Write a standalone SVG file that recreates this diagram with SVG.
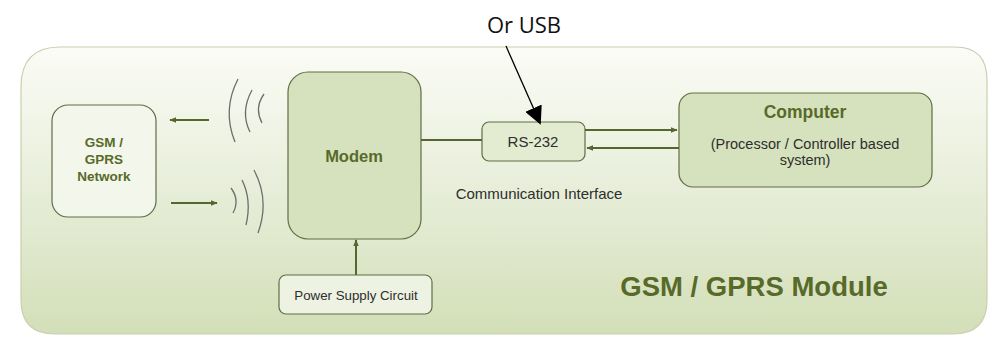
<svg xmlns="http://www.w3.org/2000/svg" width="989" height="337" viewBox="0 0 989 337">
  <defs>
    <linearGradient id="panelFill" x1="0" y1="0" x2="0" y2="1">
      <stop offset="0" stop-color="#fbfcf6"/>
      <stop offset="0.45" stop-color="#e9efdc"/>
      <stop offset="1" stop-color="#d3dfb8"/>
    </linearGradient>
    <marker id="oliveHead" viewBox="0 0 10 10" refX="9" refY="5" markerWidth="7" markerHeight="7" markerUnits="userSpaceOnUse" orient="auto">
      <path d="M0,1 L10,5 L0,9 Z" fill="#55672f"/>
    </marker>
    <marker id="blackHead" viewBox="0 0 10 10" refX="9" refY="5" markerWidth="18" markerHeight="18" markerUnits="userSpaceOnUse" orient="auto">
      <path d="M0,0 L10,5 L0,10 Z" fill="#000"/>
    </marker>
  </defs>
  <style>
    .box { stroke: #5f6e43; stroke-width: 1.2; }
    .link { stroke: #55672f; stroke-width: 2; fill: none; }
    .wave { stroke: #6d6d6d; stroke-width: 1.3; fill: none; }
    .boldlbl { font-family: "Liberation Sans", Arial, sans-serif; font-weight: bold; fill: #586a2a; text-anchor: middle; }
    .lbl { font-family: "Liberation Sans", Arial, sans-serif; fill: #2e2e2e; text-anchor: middle; }
  </style>

  <rect width="989" height="337" fill="#ffffff"/>

  <!-- module panel -->
  <path d="M60,47 L955,47 Q987,47 987,80 L987,300 Q987,334 953,334 L55,334 Q21,334 21,300 L21,87 Q21,47 60,47 Z" fill="url(#panelFill)" stroke="#c9cfae" stroke-width="1.2"/>
  <text x="754" y="296" class="boldlbl" font-size="27.5">GSM / GPRS Module</text>

  <g id="network">
    <rect class="box" x="52" y="105" width="104" height="112" rx="16" fill="#f3f6ea"/>
    <text class="boldlbl" font-size="13.5" x="104" y="147">GSM /</text>
    <text class="boldlbl" font-size="13.5" x="104" y="164">GPRS</text>
    <text class="boldlbl" font-size="13.5" x="104" y="181">Network</text>
  </g>

  <g id="modem">
    <rect class="box" x="288" y="72" width="133" height="167" rx="20" fill="#d6e1bd"/>
    <text class="boldlbl" font-size="16.5" x="354" y="162">Modem</text>
  </g>

  <g id="rs232">
    <rect class="box" x="482" y="122" width="103" height="39" rx="7" fill="#e3ebd1"/>
    <text class="lbl" font-size="15" x="533" y="147">RS-232</text>
  </g>

  <g id="computer">
    <rect class="box" x="679" y="93" width="253" height="94" rx="14" fill="#d6e1bd"/>
    <text class="boldlbl" font-size="17.5" x="805" y="118">Computer</text>
    <text class="lbl" font-size="14.5" x="805" y="149">(Processor / Controller based</text>
    <text class="lbl" font-size="14.5" x="805" y="165">system)</text>
  </g>

  <g id="power">
    <rect class="box" x="279" y="275" width="153" height="39" rx="7" fill="#edf2e2"/>
    <text class="lbl" font-size="13.3" x="356" y="300">Power Supply Circuit</text>
  </g>

  <g id="labels">
    <text class="lbl" font-size="15" x="539" y="199">Communication  Interface</text>
    <text x="524" y="33" font-family="Open Sans, 'Liberation Sans', sans-serif" font-size="22" fill="#111" text-anchor="middle">Or USB</text>
  </g>

  <g id="connectors">
    <!-- radio links -->
    <line class="link" x1="209" y1="120" x2="170" y2="120" marker-end="url(#oliveHead)"/>
    <line class="link" x1="171" y1="203" x2="217" y2="203" marker-end="url(#oliveHead)"/>
    <!-- outgoing waves -->
    <path class="wave" d="M238,79 Q222,110 235,142"/>
    <path class="wave" d="M252,90 Q240,112 250,132"/>
    <path class="wave" d="M264,94 Q254,108 262,123"/>
    <!-- incoming waves -->
    <path class="wave" d="M231,188 Q240,200 233,213"/>
    <path class="wave" d="M242,180 Q252,200 246,225"/>
    <path class="wave" d="M254,170 Q270,200 258,233"/>
    <!-- modem to interface -->
    <line class="link" x1="421" y1="140" x2="482" y2="140"/>
    <!-- interface to computer and back -->
    <line class="link" x1="585" y1="130" x2="677" y2="130" marker-end="url(#oliveHead)"/>
    <line class="link" x1="679" y1="148" x2="587" y2="148" marker-end="url(#oliveHead)"/>
    <!-- power feed -->
    <line class="link" x1="356" y1="275" x2="356" y2="240" marker-end="url(#oliveHead)"/>
    <!-- USB note pointer -->
    <line x1="506" y1="46" x2="540" y2="123" stroke="#000" stroke-width="1.3" marker-end="url(#blackHead)"/>
  </g>
</svg>
